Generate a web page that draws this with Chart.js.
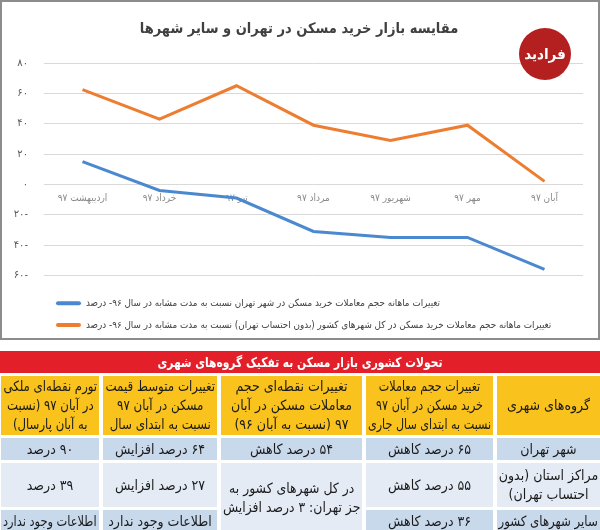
<!DOCTYPE html>
<html lang="fa">
<head>
<meta charset="utf-8">
<script src="https://cdn.jsdelivr.net/npm/chart.js@4.4.1/dist/chart.umd.min.js"></script>
<style>
  body { margin: 0; width: 600px; height: 530px; overflow: hidden; background: #fff; font-family: "DejaVu Sans Condensed", "DejaVu Sans", sans-serif; }
  #chartBox { position: absolute; left: 0; top: 0; width: 600px; height: 340px; }
  #frame { position: absolute; left: 0; top: 0; width: 600px; height: 340px; box-sizing: border-box; border: 2px solid #8c8c8c; pointer-events: none; }
  #title { position: absolute; left: 0; top: 20px; width: 598px; text-align: center; direction: rtl; font-weight: bold; font-size: 14.5px; color: #404040; }
  #logo { position: absolute; left: 519px; top: 28px; width: 52px; height: 52px; border-radius: 50%; background: #b3201f; color: #fff; font-weight: bold; font-size: 15px; line-height: 52px; text-align: center; direction: rtl; }
  #tableTitle { position: absolute; left: 0; top: 351px; width: 600px; height: 22px; line-height: 22px; background: #e3202a; color: #fff; font-weight: bold; font-size: 13.5px; text-align: center; direction: rtl; }
  #tableTitle span { display: inline-block; transform: scaleX(0.88); }
  #grid { position: absolute; left: 0; top: 376px; width: 600px; display: grid; direction: rtl;
          grid-template-columns: 103px 127px 141px 114px 98px; grid-template-rows: 59px 22px 44px 22px; gap: 3px 4px; }
  .cell { display: flex; align-items: center; justify-content: center; overflow: hidden; color: #1a1a1a; font-size: 14px; line-height: 19px; text-align: center; }
  .cell span { display: inline-block; white-space: nowrap; transform-origin: center; }
  .head { background: #f9c21c; }
  .dark { background: #c9d9ec; }
  .light { background: #e4ebf5; }
</style>
</head>
<body>
<div id="chartBox"><canvas id="chart"></canvas></div>
<div id="frame"></div>
<div id="title"></div>
<div id="logo">فرادید</div>
<div id="tableTitle"><span></span></div>
<div id="grid"></div>
<script>
const chartTitle = 'مقایسه بازار خرید مسکن در تهران و سایر شهرها';
const months = ['اردیبهشت ۹۷', 'خرداد ۹۷', 'تیر ۹۷', 'مرداد ۹۷', 'شهریور ۹۷', 'مهر ۹۷', 'آبان ۹۷'];
const tehranLabel = 'تغییرات ماهانه حجم معاملات خرید مسکن در شهر تهران نسبت به مدت مشابه در سال ۹۶- درصد';
const otherLabel = 'تغییرات ماهانه حجم معاملات خرید مسکن در کل شهرهای کشور (بدون احتساب تهران) نسبت به مدت مشابه در سال ۹۶- درصد';
const tehranChange = [15, -4, -9, -31, -35, -35, -56];
const otherChange = [62.5, 43, 65, 39, 29, 39, 2];

const tableTitle = 'تحولات کشوری بازار مسکن به تفکیک گروه‌های شهری';
const tableHeaders = [
  ['گروه‌های شهری'],
  ['تغییرات حجم معاملات', 'خرید مسکن در آبان ۹۷', 'نسبت به ابتدای سال جاری'],
  ['تغییرات نقطه‌ای حجم', 'معاملات مسکن در آبان', '۹۷ (نسبت به آبان ۹۶)'],
  ['تغییرات متوسط قیمت', 'مسکن در آبان ۹۷', 'نسبت به ابتدای سال'],
  ['تورم نقطه‌ای ملکی', 'در آبان ۹۷ (نسبت', 'به آبان پارسال)']
];
const cityGroups = [['شهر تهران'], ['مراکز استان (بدون', 'احتساب تهران)'], ['سایر شهرهای کشور']];
const volumeSinceStart = ['۶۵ درصد کاهش', '۵۵ درصد کاهش', '۳۶ درصد کاهش'];
const volumeYoY = [['۵۴ درصد کاهش'], ['در کل شهرهای کشور به', 'جز تهران: ۳ درصد افزایش']];
const priceChange = ['۶۴ درصد افزایش', '۲۷ درصد افزایش', 'اطلاعات وجود ندارد'];
const inflation = ['۹۰ درصد', '۳۹ درصد', 'اطلاعات وجود ندارد'];

const blue = '#4a89cf';
const orange = '#ed7d31';
const toFa = v => String(v).replace(/\d/g, d => '۰۱۲۳۴۵۶۷۸۹'[d]);

document.getElementById('title').textContent = chartTitle;
document.querySelector('#tableTitle span').textContent = tableTitle;

const ctx = document.getElementById('chart').getContext('2d');
const myChart = new Chart(ctx, {
  type: 'line',
  data: {
    labels: months,
    datasets: [
      { label: tehranLabel, data: tehranChange, borderColor: blue, backgroundColor: blue, borderWidth: 3, pointRadius: 0, tension: 0 },
      { label: otherLabel, data: otherChange, borderColor: orange, backgroundColor: orange, borderWidth: 3, pointRadius: 0, tension: 0 }
    ]
  },
  options: {
    responsive: true,
    maintainAspectRatio: false,
    animation: false,
    layout: { padding: { top: 63, left: 0, right: 17, bottom: 0 } },
    scales: {
      x: {
        position: { y: 0 },
        offset: true,
        grid: { display: false, drawTicks: false },
        border: { display: false },
        ticks: { padding: 8, color: '#8c8c8c', font: { family: 'DejaVu Sans Condensed', size: 10 }, maxRotation: 0, autoSkip: false },
        afterFit: s => { s.height = 0; }
      },
      y: {
        min: -60,
        max: 80,
        grid: { color: '#d9d9d9', drawTicks: false },
        border: { display: false },
        ticks: { stepSize: 20, padding: 16, color: '#595959', font: { family: 'DejaVu Sans', size: 10 }, callback: v => toFa(v) },
        afterFit: s => { s.width = 44; }
      }
    },
    plugins: {
      title: { display: false },
      tooltip: { enabled: false },
      legend: {
        position: 'bottom',
        align: 'start',
        fullSize: false,
        textDirection: 'rtl',
        title: { display: true, text: '', font: { size: 10, lineHeight: 0 }, padding: { top: 11, bottom: 0 } },
        labels: {
          boxWidth: 25,
          boxHeight: 4,
          padding: 12,
          color: '#404040',
          font: { family: 'DejaVu Sans Condensed', size: 9.8 },
          useBorderRadius: true,
          borderRadius: 2,
          generateLabels: chart => Chart.defaults.plugins.legend.labels.generateLabels(chart).map(item => ({ ...item, lineWidth: 0 }))
        }
      }
    }
  }
});

// table
const grid = document.getElementById('grid');
function addCell(lines, cls, style) {
  const div = document.createElement('div');
  div.className = 'cell ' + cls;
  if (style) div.setAttribute('style', style);
  const span = document.createElement('span');
  lines.forEach((line, i) => {
    if (i) span.appendChild(document.createElement('br'));
    span.appendChild(document.createTextNode(line));
  });
  div.appendChild(span);
  grid.appendChild(div);
}
tableHeaders.forEach(h => addCell(h, 'head'));
addCell(cityGroups[0], 'dark');
addCell([volumeSinceStart[0]], 'dark');
addCell(volumeYoY[0], 'dark');
addCell([priceChange[0]], 'dark');
addCell([inflation[0]], 'dark');
addCell(cityGroups[1], 'light');
addCell([volumeSinceStart[1]], 'light');
addCell(volumeYoY[1], 'light', 'grid-row: 3 / span 2; grid-column: 3;');
addCell([priceChange[1]], 'light');
addCell([inflation[1]], 'light');
addCell(cityGroups[2], 'dark', 'grid-row: 4; grid-column: 1;');
addCell([volumeSinceStart[2]], 'dark', 'grid-row: 4; grid-column: 2;');
addCell([priceChange[2]], 'dark', 'grid-row: 4; grid-column: 4;');
addCell([inflation[2]], 'dark', 'grid-row: 4; grid-column: 5;');

// squeeze text that is wider than its cell
document.querySelectorAll('.cell span').forEach(span => {
  const room = span.parentElement.clientWidth - 4;
  const w = span.offsetWidth;
  if (w > room) span.style.transform = 'scaleX(' + (room / w).toFixed(3) + ')';
});
</script>
</body>
</html>
